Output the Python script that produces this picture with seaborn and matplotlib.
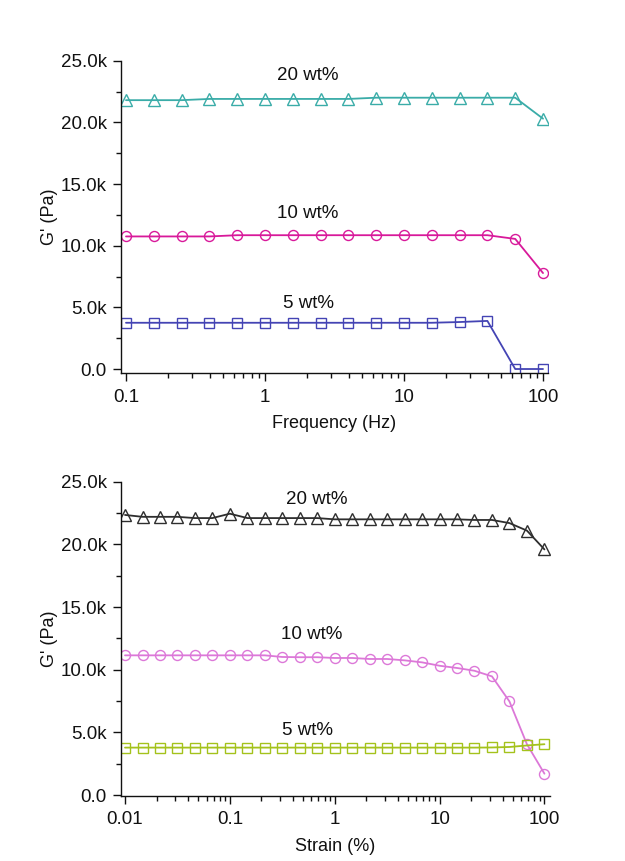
import numpy as np
import pandas as pd
import matplotlib
matplotlib.use("Agg")
import matplotlib.pyplot as plt
import matplotlib.ticker as mticker
import seaborn as sns

# ---------------- data ----------------
freq_hz = [0.1, 0.158, 0.251, 0.398, 0.631, 1.0, 1.58, 2.51, 3.98, 6.31,
           10.0, 15.8, 25.1, 39.8, 63.1, 100.0]
freq_20 = [21800, 21800, 21800, 21900, 21900, 21900, 21900, 21900, 21900, 22000,
           22000, 22000, 22000, 22000, 22000, 20300]
freq_10 = [10750, 10750, 10750, 10750, 10850, 10850, 10850, 10850, 10850, 10850,
           10850, 10850, 10850, 10850, 10550, 7780]
freq_5 = [3750, 3750, 3750, 3750, 3750, 3750, 3750, 3750, 3750, 3750,
          3750, 3750, 3810, 3900, 0, 0]

strain_pct = [0.01, 0.0147, 0.0215, 0.0316, 0.0464, 0.0681, 0.1, 0.147, 0.215, 0.316,
              0.464, 0.681, 1.0, 1.47, 2.15, 3.16, 4.64, 6.81, 10.0, 14.7,
              21.5, 31.6, 46.4, 68.1, 100.0]
strain_20 = [22350, 22200, 22200, 22200, 22100, 22100, 22450, 22100, 22100, 22100,
             22100, 22100, 22000, 22000, 22000, 22000, 22000, 22000, 22000, 22000,
             21950, 21950, 21700, 21100, 19600]
strain_10 = [11150, 11150, 11150, 11150, 11150, 11150, 11150, 11150, 11150, 11020,
             11000, 11000, 10940, 10940, 10860, 10860, 10750, 10590, 10320, 10140,
             9920, 9470, 7470, 4060, 1710]
strain_5 = [3790, 3790, 3790, 3790, 3790, 3790, 3790, 3790, 3790, 3790,
            3790, 3790, 3790, 3790, 3790, 3790, 3790, 3790, 3790, 3790,
            3790, 3800, 3840, 3960, 4060]

series_labels = ["20 wt%", "10 wt%", "5 wt%"]
y_ticks = [0, 5000, 10000, 15000, 20000, 25000]

# ---------------- style ----------------
sns.set_style("ticks")
plt.rcParams['font.family'] = ['Liberation Sans', 'DejaVu Sans']
plt.rcParams['axes.linewidth'] = 1.0
plt.rcParams['text.color'] = '#111111'
plt.rcParams['axes.labelcolor'] = '#111111'
plt.rcParams['axes.edgecolor'] = '#111111'
plt.rcParams['xtick.color'] = '#111111'
plt.rcParams['ytick.color'] = '#111111'

fig = plt.figure(figsize=(6.25, 8.61), dpi=100)
ax1 = fig.add_axes([0.1931, 0.5664, 0.6837, 0.3631])
ax2 = fig.add_axes([0.1931, 0.0758, 0.6869, 0.3647])

top_colors = ["#3aaca8", "#d8199a", "#4444b4"]
bot_colors = ["#2e2e2e", "#dc78d8", "#a4c21c"]
markers = ["^", "o", "s"]
msizes = [8, 7.2, 6.6]


def draw(ax, x, ys, colors):
    for y, c, m, ms in zip(ys, colors, markers, msizes):
        df = pd.DataFrame({"x": x, "y": y})
        sns.lineplot(data=df, x="x", y="y", ax=ax, color=c, marker=m,
                     markersize=ms, markerfacecolor="none", markeredgecolor=c,
                     markeredgewidth=1.0, linewidth=1.3, sort=False,
                     estimator=None, legend=False)


def kfmt(v, pos):
    if abs(v) < 1e-9:
        return "0.0"
    return f"{v/1000:.1f}k"


def style(ax, xlim, ylim, xlabel, xticks, xticklabels):
    ax.set_xscale("log")
    ax.set_xlim(*xlim)
    ax.set_ylim(*ylim)
    ax.set_xticks(xticks)
    ax.set_xticklabels(xticklabels)
    ax.xaxis.set_minor_locator(mticker.LogLocator(base=10, subs=np.arange(2, 10), numticks=20))
    ax.xaxis.set_minor_formatter(mticker.NullFormatter())
    ax.set_yticks(y_ticks)
    ax.yaxis.set_major_formatter(mticker.FuncFormatter(kfmt))
    ax.yaxis.set_minor_locator(mticker.MultipleLocator(2500))
    ax.tick_params(axis="both", which="major", direction="out", length=6, width=1.0,
                   labelsize=13.5)
    ax.tick_params(axis="y", which="major", pad=4)
    ax.tick_params(axis="x", which="major", pad=5)
    ax.tick_params(axis="both", which="minor", direction="out", length=3.5, width=1.0)
    ax.set_xlabel(xlabel, fontsize=13, labelpad=7)
    ax.set_ylabel("G' (Pa)", fontsize=13, labelpad=2)
    for s in ["top", "right"]:
        ax.spines[s].set_visible(False)
    ax.set_facecolor("white")


draw(ax1, freq_hz, [freq_20, freq_10, freq_5], top_colors)
style(ax1, (0.0916, 108.6), (-350, 25000), "Frequency (Hz)",
      [0.1, 1, 10, 100], ["0.1", "1", "10", "100"])
for lab, (tx, ty) in zip(series_labels, [(2.04, 23800), (2.04, 12650), (2.04, 5320)]):
    ax1.text(tx, ty, lab, ha="center", va="center", fontsize=13.5)

draw(ax2, strain_pct, [strain_20, strain_10, strain_5], bot_colors)
style(ax2, (0.0091, 113.0), (-50, 25000), "Strain (%)",
      [0.01, 0.1, 1, 10, 100], ["0.01", "0.1", "1", "10", "100"])
for lab, (tx, ty) in zip(series_labels, [(0.675, 23580), (0.60, 12820), (0.546, 5160)]):
    ax2.text(tx, ty, lab, ha="center", va="center", fontsize=13.5)

fig.savefig("out.png", dpi=100, facecolor="white")
